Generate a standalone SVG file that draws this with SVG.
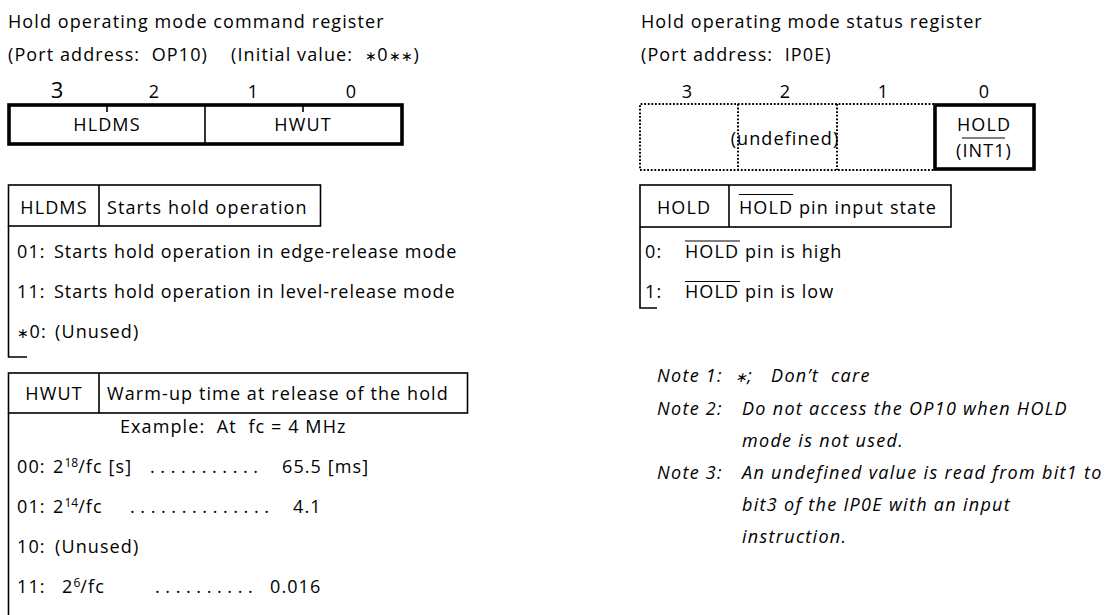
<svg xmlns="http://www.w3.org/2000/svg" width="1110" height="615" viewBox="0 0 1110 615" xml:space="preserve">
<style>
text{font-family:"Open Sans","Liberation Sans",sans-serif;font-size:18px;letter-spacing:1.1px;fill:#000;white-space:pre}
.it{font-style:italic;letter-spacing:1.3px}
.mid{text-anchor:middle}
.bit{font-size:18px;letter-spacing:0}
.thin{fill:none;stroke:#000;stroke-width:1.6}
.thick{fill:none;stroke:#000;stroke-width:3.6}
.dot{fill:none;stroke:#000;stroke-width:2;stroke-dasharray:1.8 1.8}
.ov{stroke:#000;stroke-width:1.2}
.sup{font-size:12px;letter-spacing:0}
.dots{letter-spacing:5.6px}
.row{letter-spacing:0.95px}
.ast{font-size:14px;letter-spacing:0.5px}
</style>
<rect width="1110" height="615" fill="#fff"/>

<g id="cmd-register">
<text x="8" y="28">Hold operating mode command register</text>
<text x="8" y="61">(Port address:  OP10)    (Initial value:  <tspan class="ast">∗</tspan>0<tspan class="ast">∗∗</tspan>)</text>
<text x="57" y="98" class="mid bit" style="font-size:22px">3</text>
<text x="154" y="98" class="mid bit">2</text>
<text x="253" y="98" class="mid bit">1</text>
<text x="351" y="98" class="mid bit">0</text>
<rect x="9" y="105" width="393" height="39" class="thick"/>
<line x1="205" y1="105" x2="205" y2="144" class="thin"/>
<line x1="107" y1="105" x2="107" y2="112" class="thin"/>
<line x1="303" y1="105" x2="303" y2="112" class="thin"/>
<text x="107" y="131" class="mid">HLDMS</text>
<text x="303" y="131" class="mid">HWUT</text>
</g>

<g id="hldms-table">
<rect x="8.5" y="185" width="312" height="41" class="thin"/>
<line x1="99" y1="185" x2="99" y2="226" class="thin"/>
<text x="54" y="214" class="mid">HLDMS</text>
<text x="107" y="214">Starts hold operation</text>
<polyline points="8.5,226 8.5,357 27,357" class="thin"/>
<text x="17" y="258">01:</text>
<text x="54" y="258" class="row">Starts hold operation in edge-release mode</text>
<text x="17" y="298">11:</text>
<text x="54" y="298" class="row">Starts hold operation in level-release mode</text>
<text x="17" y="338"><tspan class="ast">∗</tspan>0:</text>
<text x="55" y="338">(Unused)</text>
</g>

<g id="hwut-table">
<rect x="8.5" y="373" width="459" height="40" class="thin"/>
<line x1="99" y1="373" x2="99" y2="413" class="thin"/>
<text x="54" y="400" class="mid">HWUT</text>
<text x="107" y="400">Warm-up time at release of the hold</text>
<line x1="8.5" y1="413" x2="8.5" y2="615" class="thin"/>
<text x="120" y="433">Example:  At  fc = 4 MHz</text>
<text x="17" y="473">00:</text>
<text x="53" y="473">2<tspan class="sup" dy="-6">18</tspan><tspan dy="6">/fc [s]</tspan></text>
<text x="150" y="473" class="dots">...........</text>
<text x="282" y="473">65.5 [ms]</text>
<text x="17" y="513">01:</text>
<text x="53" y="513">2<tspan class="sup" dy="-6">14</tspan><tspan dy="6">/fc</tspan></text>
<text x="130" y="513" class="dots">..............</text>
<text x="293" y="513">4.1</text>
<text x="17" y="553">10:</text>
<text x="55" y="553">(Unused)</text>
<text x="17" y="593">11:</text>
<text x="62" y="593">2<tspan class="sup" dy="-6">6</tspan><tspan dy="6">/fc</tspan></text>
<text x="155" y="593" class="dots">..........</text>
<text x="270" y="593">0.016</text>
</g>

<g id="status-register">
<text x="641" y="28">Hold operating mode status register</text>
<text x="641" y="61">(Port address:  IP0E)</text>
<text x="687" y="98" class="mid bit">3</text>
<text x="785" y="98" class="mid bit">2</text>
<text x="883" y="98" class="mid bit">1</text>
<text x="984" y="98" class="mid bit">0</text>
<polyline points="934,104 640,104 640,170 934,170" class="dot"/>
<line x1="738" y1="104" x2="738" y2="170" class="dot"/>
<line x1="837" y1="104" x2="837" y2="170" class="dot"/>
<text x="785" y="145" class="mid">(undefined)</text>
<rect x="935" y="105" width="99" height="64" class="thick"/>
<text x="984" y="131" class="mid">HOLD</text>
<text x="984" y="157" class="mid">(INT1)</text>
<line x1="962" y1="138" x2="1005" y2="138" class="ov"/>
</g>

<g id="hold-table">
<rect x="640" y="185" width="311" height="42" class="thin"/>
<line x1="729" y1="185" x2="729" y2="227" class="thin"/>
<text x="684" y="214" class="mid">HOLD</text>
<text x="739" y="214">HOLD pin input state</text>
<line x1="739" y1="194.5" x2="793" y2="194.5" class="ov"/>
<polyline points="640,227 640,308 657,308" class="thin"/>
<text x="645" y="258">0:</text>
<text x="685" y="258">HOLD pin is high</text>
<line x1="685" y1="241" x2="740" y2="241" class="ov"/>
<text x="645" y="298">1:</text>
<text x="685" y="298">HOLD pin is low</text>
<line x1="685" y1="281.5" x2="740" y2="281.5" class="ov"/>
</g>

<g id="notes">
<text x="657" y="382" class="it">Note 1:  <tspan class="ast">∗</tspan>;   Don’t  care</text>
<text x="657" y="415" class="it">Note 2:</text>
<text x="742" y="415" class="it">Do not access the OP10 when HOLD</text>
<text x="742" y="447" class="it">mode is not used.</text>
<text x="657" y="479" class="it">Note 3:</text>
<text x="742" y="479" class="it">An undefined value is read from bit1 to</text>
<text x="742" y="511" class="it">bit3 of the IP0E with an input</text>
<text x="742" y="543" class="it">instruction.</text>
</g>

<g id="connectors"></g>
</svg>
